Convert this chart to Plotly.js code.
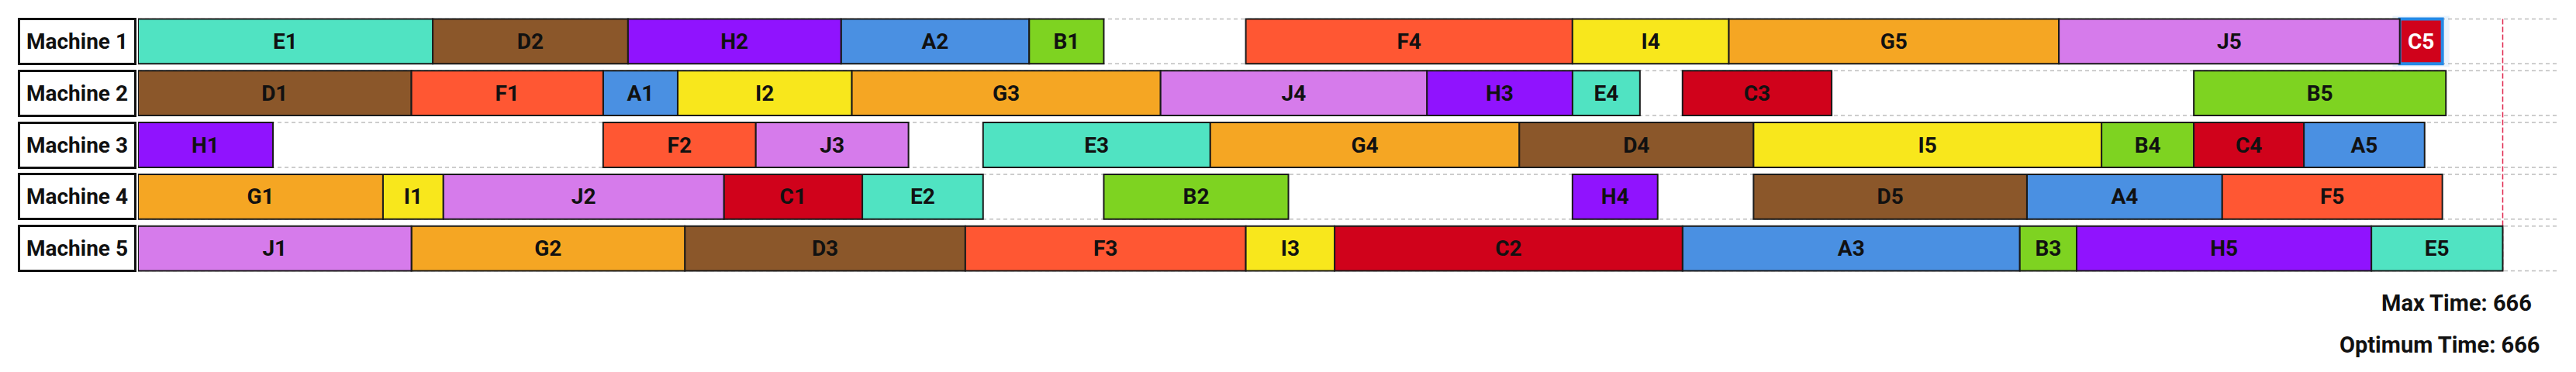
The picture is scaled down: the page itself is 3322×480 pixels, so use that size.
<!DOCTYPE html>
<html>
<head>
<meta charset="utf-8">
<script src="https://cdn.plot.ly/plotly-3.0.1.min.js"></script>
<style>
  body { margin: 0; background: #fff; }
  #chart { width: 3322px; height: 480px; }
</style>
</head>
<body>
<div id="chart"></div>
<script>
const machines = ["Machine 1", "Machine 2", "Machine 3", "Machine 4", "Machine 5"];
const jobs = ["A", "B", "C", "D", "E", "F", "G", "H", "I", "J"];
const jobColors = ["#4A90E2", "#7ED321", "#D0021B", "#8B572A", "#50E3C2",
                   "#FF5733", "#F5A623", "#9013FE", "#F8E71C", "#D67BEB"];

// machine (1..5) used by each operation of each job
const opMachine = [
    [2, 1, 5, 4, 3],
    [1, 4, 5, 3, 2],
    [4, 5, 2, 3, 1],
    [2, 1, 5, 3, 4],
    [1, 4, 3, 2, 5],
    [2, 3, 5, 1, 4],
    [4, 5, 2, 3, 1],
    [3, 1, 2, 4, 5],
    [4, 2, 5, 1, 3],
    [5, 4, 3, 2, 1]
];
const opStart = [
    [131, 198, 435, 532, 610],
    [251, 272, 530, 553, 579],
    [165, 337, 435, 579, 637],
    [0, 83, 154, 389, 455],
    [0, 204, 238, 404, 629],
    [77, 131, 233, 312, 587],
    [0, 77, 201, 302, 448],
    [0, 138, 363, 404, 546],
    [69, 152, 312, 404, 455],
    [0, 86, 174, 288, 541]
];
const opLength = [
    [21, 53, 95, 55, 34],
    [21, 52, 16, 26, 71],
    [39, 98, 42, 31, 12],
    [77, 55, 79, 66, 77],
    [83, 34, 64, 19, 37],
    [54, 43, 79, 92, 62],
    [69, 77, 87, 87, 93],
    [38, 60, 41, 24, 83],
    [17, 49, 25, 44, 98],
    [77, 79, 43, 75, 96]
];
const selected = { job: 2, op: 4 }; // C5 is highlighted
const optimumTime = 666;

// ---- layout numbers ----
const W = 3322, H = 480;
const M = { l: 178, r: 24, t: 20, b: 126 };
const xMax = 681.4;
const barW = 0.865;
const plotH = H - M.t - M.b;

let maxTime = 0;
jobs.forEach((j, i) => opStart[i].forEach((s, k) => {
    maxTime = Math.max(maxTime, s + opLength[i][k]);
}));

const traces = jobs.map((job, i) => {
    const isSel = opStart[i].map((_, k) => i === selected.job && k === selected.op);
    return {
        type: "bar",
        orientation: "h",
        name: job,
        y: opMachine[i].map(m => machines[m - 1]),
        base: opStart[i],
        x: opLength[i],
        width: barW,
        text: opStart[i].map((_, k) => job + (k + 1)),
        textposition: "inside",
        insidetextanchor: "middle",
        textangle: 0,
        constraintext: "none",
        textfont: {
            family: "Roboto",
            size: 28,
            weight: "bold",
            color: isSel.map(s => s ? "#ffffff" : "#111111")
        },
        marker: {
            color: jobColors[i],
            line: {
                color: isSel.map(s => s ? "#2589E6" : "#1a1a1a"),
                width: isSel.map(s => s ? 4 : 2)
            }
        },
        hoverinfo: "skip"
    };
});

const shapes = [];
machines.forEach((m, i) => {
    [i - barW / 2, i + barW / 2].forEach(yv => {
        shapes.push({
            type: "line", layer: "below",
            xref: "paper", x0: 0, x1: 1,
            yref: "y", y0: yv, y1: yv,
            line: { color: "#bdbdbd", width: 1.5, dash: "5px,4px" }
        });
    });
});
shapes.push({
    type: "line", layer: "below",
    xref: "x", x0: maxTime, x1: maxTime,
    yref: "y", y0: -barW / 2, y1: machines.length - 1 + barW / 2,
    line: { color: "#E0284F", width: 1.5, dash: "7px,3px" }
});
// soft glow round the selected operation
const sj = selected.job, so = selected.op;
shapes.push({
    type: "rect", layer: "below",
    xref: "x", x0: opStart[sj][so] - 2, x1: opStart[sj][so] + opLength[sj][so] + 2,
    yref: "y", y0: opMachine[sj][so] - 1 - barW / 2 - 0.06, y1: opMachine[sj][so] - 1 + barW / 2 + 0.06,
    fillcolor: "rgba(37,137,230,0.10)", line: { width: 0 }
});

const annotations = machines.map(m => ({
    xref: "paper", x: 0, xanchor: "right", xshift: -2,
    yref: "y", y: m, yanchor: "middle",
    text: m, showarrow: false,
    font: { family: "Roboto", size: 28, weight: "bold", color: "#111" },
    bgcolor: "#ffffff", bordercolor: "#111", borderwidth: 3, borderpad: 0,
    width: 147, height: 55, align: "center"
}));

function paperY(py) { return (H - M.b - py) / plotH; }
annotations.push({
    xref: "paper", x: (3267 - M.l) / (W - M.l - M.r), xanchor: "right",
    yref: "paper", y: paperY(391), yanchor: "middle",
    text: "Max Time: " + maxTime, showarrow: false,
    font: { family: "Roboto", size: 29, weight: "bold", color: "#111" }
});
annotations.push({
    xref: "paper", x: (3277 - M.l) / (W - M.l - M.r), xanchor: "right",
    yref: "paper", y: paperY(445), yanchor: "middle",
    text: "Optimum Time: " + optimumTime, showarrow: false,
    font: { family: "Roboto", size: 29, weight: "bold", color: "#111" }
});

const layout = {
    width: W,
    height: H,
    margin: M,
    paper_bgcolor: "#ffffff",
    plot_bgcolor: "#ffffff",
    barmode: "overlay",
    showlegend: false,
    font: { family: "Roboto" },
    xaxis: { range: [0, xMax], visible: false, showgrid: false, zeroline: false },
    yaxis: {
        type: "category",
        categoryarray: machines,
        range: [machines.length - 0.5, -0.5],
        showticklabels: false, showgrid: false, zeroline: false, ticks: ""
    },
    shapes: shapes,
    annotations: annotations
};

Plotly.newPlot("chart", traces, layout, { displayModeBar: false, staticPlot: true });
</script>
</body>
</html>
